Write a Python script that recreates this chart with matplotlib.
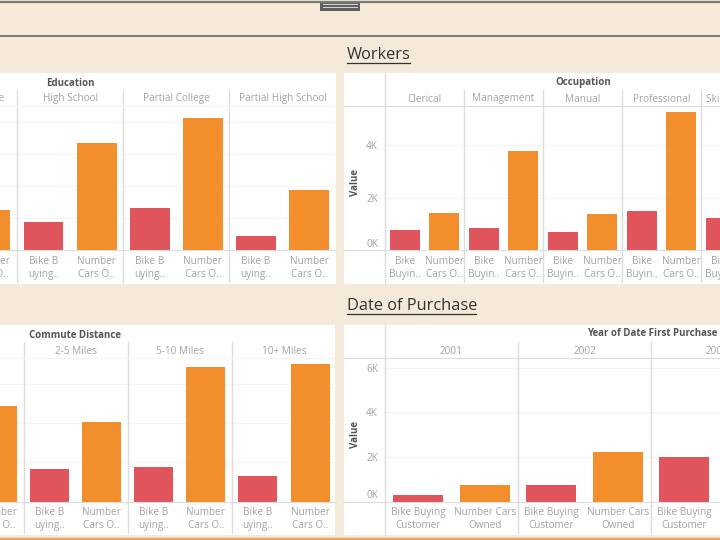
import numpy as np
import matplotlib
matplotlib.use("Agg")
import matplotlib.pyplot as plt
from matplotlib.lines import Line2D
from matplotlib.patches import Rectangle
from matplotlib.transforms import blended_transform_factory

# values are in thousands
edu_names = ["Graduate Degree", "High School", "Partial College", "Partial High School"]
edu_bike = [np.nan, 0.86, 1.30, 0.45]
edu_cars = [1.25, 3.33, 4.14, 1.87]

occ_names = ["Clerical", "Management", "Manual", "Professional", "Skilled Manual"]
occ_bike = [0.75, 0.83, 0.68, 1.49, 1.21]
occ_cars = [1.42, 3.79, 1.36, 5.27, np.nan]

dist_names = ["1-2 Miles", "2-5 Miles", "5-10 Miles", "10+ Miles"]
dist_bike = [np.nan, 0.83, 0.87, 0.66]
dist_cars = [2.44, 2.03, 3.41, 3.50]

year_names = ["2001", "2002", "2003"]
year_bike = [0.27, 0.75, 2.00]
year_cars = [0.72, 2.20, np.nan]

short_labels = ["Bike B\nuying..", "Number\nCars O.."]
mid_labels = ["Bike\nBuyin..", "Number\nCars O.."]
long_labels = ["Bike Buying\nCustomer", "Number Cars\nOwned"]

BG = "#f5ead9"
RED = "#e0555b"
ORANGE = "#f28e2b"
GRID = "#f3f3f3"
SEP = "#dcdcdc"
GREY = "#a3a3a3"
DARK = "#555555"

W, H = 720, 540
plt.rcParams["font.family"] = ["Open Sans", "DejaVu Sans"]
fig = plt.figure(figsize=(7.2, 5.4), dpi=100, facecolor=BG)


def fx(x):
    return x / W


def fy(y):
    return 1 - y / H


def hline(y, x0, x1, color, lw):
    fig.add_artist(Line2D([fx(x0), fx(x1)], [fy(y), fy(y)], color=color, lw=lw))


def vline(x, y0, y1, color=SEP, lw=1.0):
    fig.add_artist(Line2D([fx(x), fx(x)], [fy(y0), fy(y1)], color=color, lw=lw))


def panel(box, sep, facet_w, top, base, px_per_k, names, bike, cars, labels,
          header, header_x, header_y, first, ticks=None):
    # box is the white card, sep the left edge of facet number "first"
    # the axes hold all facets and simply run past the edge of the figure
    x0, y0, x1, y1 = box
    fig.add_artist(Rectangle((fx(x0), fy(y1)), (x1 - x0) / W, (y1 - y0) / H,
                             transform=fig.transFigure, color="white", lw=0, zorder=-1))
    n = len(names)
    ax_left = sep - first * facet_w
    ax = fig.add_axes([fx(ax_left), fy(base), n * facet_w / W, (base - top) / H])
    ax.patch.set_alpha(0)

    pos = []
    tick_text = []
    for i in range(n):
        ax.bar(2 * i + 0.5, bike[i], width=0.75, color=RED)
        ax.bar(2 * i + 1.5, cars[i], width=0.75, color=ORANGE)
        pos += [2 * i + 0.5, 2 * i + 1.5]
        tick_text += labels
    ax.set_xticks(pos)
    ax.set_xticklabels(tick_text, fontsize=7.2, color=GREY, linespacing=1.25)
    ax.tick_params(axis="x", length=0, pad=4)
    for s in ["top", "right", "left"]:
        ax.spines[s].set_visible(False)
    ax.spines["bottom"].set_color(SEP)

    ymax = (base - top) / px_per_k
    grid_at = ticks if ticks else list(range(1, int(ymax) + 1))
    ax.set_yticks(grid_at)
    if ticks:
        ax.set_yticklabels([f"{t}K" for t in ticks], fontsize=7.2, color=GREY)
        ax.get_yticklabels()[0].set_va("bottom")  # 0K sits just above the base line
    else:
        ax.set_yticklabels([])
    ax.tick_params(axis="y", length=0, pad=5)
    ax.grid(axis="y", color=GRID, lw=0.8)
    ax.set_axisbelow(True)
    # limits go last, set_xticks would widen them
    ax.set_xlim(0, 2 * n)
    ax.set_ylim(0, ymax)

    # facet names and separators sit above the plot
    tr = blended_transform_factory(ax.transData, fig.transFigure)
    for i, name in enumerate(names):
        ax.text(2 * i + 1, fy(top - 4.5), name, transform=tr, ha="center", va="baseline",
                fontsize=7.2, color=GREY, clip_on=False)
        sx = ax_left + i * facet_w
        if x0 < sx < x1 and i > 0:
            vline(sx, top - 16, y1 - 2)
        elif x0 < sx < x1 and not ticks:
            vline(sx, top - 16, y1 - 2)
    if ticks:
        vline(ax_left, y0, y1)
        hline(top, x0, x1, SEP, 0.8)
        hline(base, x0, ax_left, SEP, 0.8)
        fig.text(fx(356), fy((top + base) / 2 + 5), "Value", rotation=90, fontsize=7,
                 fontweight="bold", color=DARK, ha="center", va="center")
    else:
        hline(top, x0, x1, GRID, 0.8)
    fig.text(fx(header_x), fy(header_y), header, fontsize=7, fontweight="bold",
             color=DARK, ha="center", va="center")


def title(text, x, y, width):
    fig.text(fx(x), fy(y), text, fontsize=11.8, color="#333333", ha="left", va="center")
    hline(y + 8, x, x + width, "#333333", 0.9)


# frame lines and the collapse handle on top
hline(1.5, 0, W, "#7a7a7a", 1.6)
hline(36, 0, W, "#7a7a7a", 1.4)
hline(538.5, 0, W, "#f2a65a", 2.5)
fig.add_artist(Rectangle((fx(320), fy(10.5)), 40 / W, 10 / H, transform=fig.transFigure,
                         color="#5e5e5e", lw=0))
hline(3.5, 323, 357, "#d8d8d8", 0.7)
hline(7, 323, 357, "#d8d8d8", 0.7)

title("Workers", 347, 55, 63)
title("Date of Purchase", 347, 306, 129)

panel((0, 73, 336, 284), 17, 106.2, 106, 250, 32.0, edu_names, edu_bike, edu_cars,
      short_labels, "Education", 70, 83, 1)
panel((344, 73, 720, 284), 385, 79.0, 106, 250, 26.2, occ_names, occ_bike, occ_cars,
      mid_labels, "Occupation", 583, 83, 0, ticks=[0, 2, 4])
panel((0, 325, 335, 535), 23.5, 104.2, 358, 501.5, 39.3, dist_names, dist_bike, dist_cars,
      short_labels, "Commute Distance", 75, 335, 1)
panel((344, 325, 720, 535), 385, 133.0, 358, 501.5, 22.3, year_names, year_bike, year_cars,
      long_labels, "Year of Date First Purchase", 652, 334, 0, ticks=[0, 2, 4, 6])

fig.savefig("out.png", dpi=100, facecolor=BG)
